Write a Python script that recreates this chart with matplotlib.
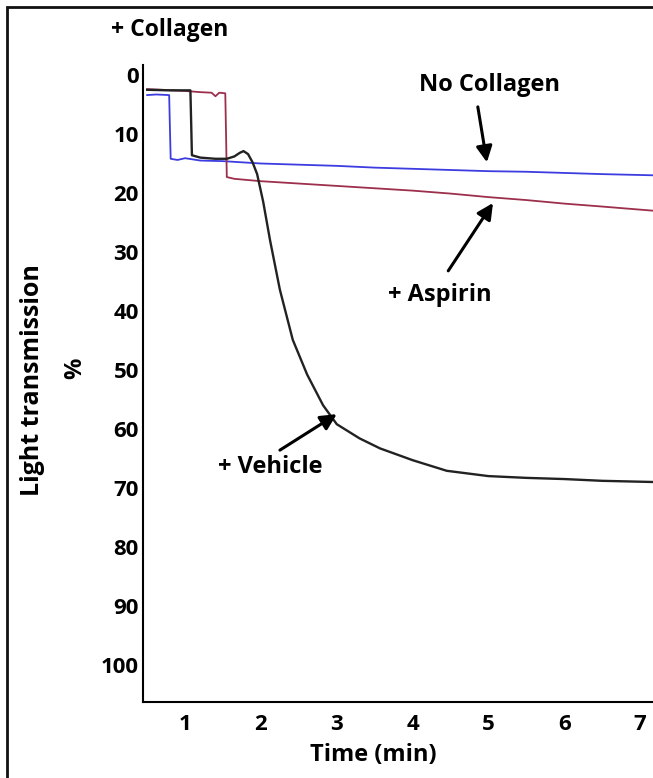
import matplotlib.pyplot as plt
import matplotlib.patches as patches

plt.rcParams['font.family'] = ['Open Sans', 'DejaVu Sans']
plt.rcParams['font.weight'] = 'bold'

# time (min) / light transmission (%)
blue_t = [0.50, 0.62, 0.79, 0.80, 0.81, 0.90, 1.00, 1.20, 1.50, 2.00, 2.50, 3.00, 3.50, 4.00, 4.50, 5.00, 5.50, 6.00, 6.50, 7.17]
blue_y = [3.4, 3.3, 3.4, 9.0, 14.2, 14.4, 14.1, 14.5, 14.6, 15.0, 15.2, 15.4, 15.7, 15.9, 16.1, 16.3, 16.4, 16.6, 16.8, 17.0]

red_t = [0.50, 0.70, 1.00, 1.20, 1.35, 1.40, 1.45, 1.53, 1.54, 1.55, 1.65, 2.00, 2.50, 3.00, 3.50, 4.00, 4.50, 5.00, 5.50, 6.00, 6.50, 7.17]
red_y = [2.4, 2.5, 2.7, 2.9, 3.0, 3.6, 3.0, 3.1, 10.0, 17.3, 17.6, 18.0, 18.4, 18.8, 19.2, 19.6, 20.1, 20.7, 21.2, 21.8, 22.3, 23.0]

black_t = [0.50, 0.80, 1.07, 1.08, 1.09, 1.20, 1.40, 1.55, 1.65, 1.72, 1.77, 1.83, 1.89, 1.95, 2.03, 2.12, 2.25, 2.42, 2.61, 2.82, 3.00, 3.30, 3.57, 4.00, 4.45, 5.00, 5.50, 6.00, 6.50, 7.17]
black_y = [2.5, 2.6, 2.6, 8.0, 13.6, 14.0, 14.2, 14.2, 13.8, 13.2, 12.9, 13.4, 14.8, 16.8, 21.5, 28.0, 36.4, 44.9, 50.8, 56.0, 59.2, 61.6, 63.3, 65.3, 67.1, 68.0, 68.3, 68.5, 68.8, 69.0]

xticks = [1, 2, 3, 4, 5, 6, 7]
yticks = [0, 10, 20, 30, 40, 50, 60, 70, 80, 90, 100]

fig = plt.figure(figsize=(6.53, 7.78), dpi=100)
ax = fig.add_axes([143/653, 1-702/778, 1-143/653, (702-65)/778])

ax.plot(blue_t, blue_y, color='#3c3ce0', lw=1.3)
ax.plot(red_t, red_y, color='#9c2f4c', lw=1.3)
ax.plot(black_t, black_y, color='#222222', lw=1.7)

ax.set_xlim(0.445, 7.17)
ax.set_ylim(106.3, -1.7)
ax.set_xticks(xticks)
ax.set_yticks(yticks)
ax.tick_params(axis='both', length=0, labelsize=16)
ax.tick_params(axis='x', pad=9)
ax.tick_params(axis='y', pad=3)
for s in ['top', 'right']:
	ax.spines[s].set_visible(False)
for s in ['left', 'bottom']:
	ax.spines[s].set_linewidth(1.5)

fig.text(373/653, 1-755/778, 'Time (min)', ha='center', va='center', fontsize=17, fontweight='bold')
fig.text(33/653, 1-380/778, 'Light transmission', rotation=90, ha='center', va='center', fontsize=18, fontweight='bold')
fig.text(75/653, 1-368/778, '%', rotation=90, ha='center', va='center', fontsize=17, fontweight='bold')
fig.text(170/653, 1-30/778, '+ Collagen', ha='center', va='center', fontsize=16.5, fontweight='bold')

arr = dict(arrowstyle='-|>', color='black', lw=2.2, mutation_scale=24, shrinkA=0, shrinkB=0)
ax.text(5.02, 1.7, 'No Collagen', ha='center', va='center', fontsize=17, fontweight='bold')
ax.annotate('', xy=(4.98, 14.8), xytext=(4.86, 5.4), arrowprops=arr)
ax.text(4.36, 37.3, '+ Aspirin', ha='center', va='center', fontsize=17, fontweight='bold')
ax.annotate('', xy=(5.06, 21.7), xytext=(4.47, 33.2), arrowprops=arr)
ax.text(2.12, 66.4, '+ Vehicle', ha='center', va='center', fontsize=17, fontweight='bold')
ax.annotate('', xy=(3.0, 57.5), xytext=(2.25, 63.6), arrowprops=arr)

frame = patches.Rectangle((7/653, -0.1), 1.2, 1.1-7/778, transform=fig.transFigure,
	fill=False, lw=2, edgecolor='#111111')
fig.patches.append(frame)

fig.savefig('out.png', dpi=100)
